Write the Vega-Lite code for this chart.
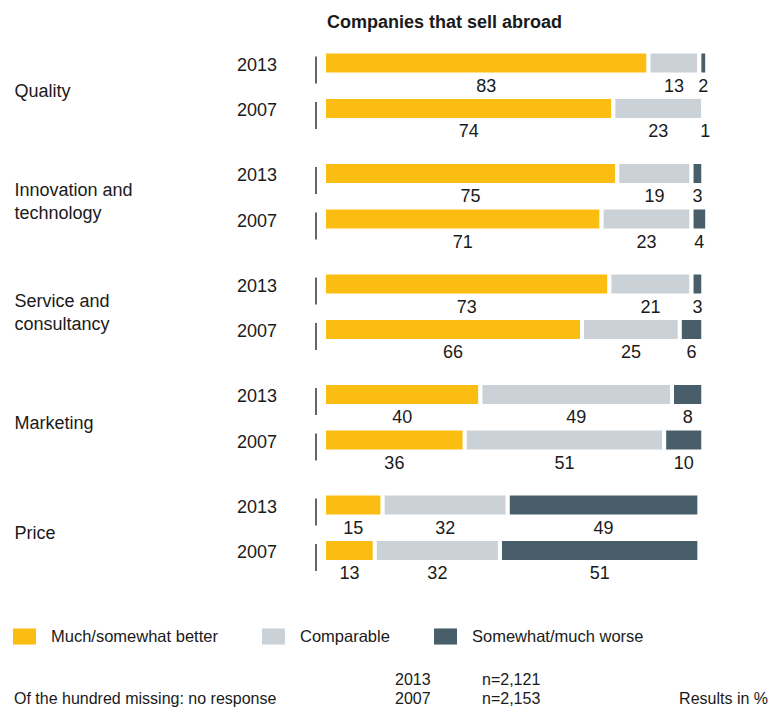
{
  "$schema": "https://vega.github.io/schema/vega-lite/v6.json",
  "width": 391,
  "height": 552.5,
  "autosize": {"type": "none"},
  "padding": {"left": 324, "top": 36.75, "right": 66, "bottom": 117.75},
  "background": "white",
  "config": {
    "view": {"stroke": null},
    "font": "Liberation Sans",
    "text": {"font": "Liberation Sans", "color": "#1a1a1a"}
  },
  "title": {
    "text": "Companies that sell abroad",
    "anchor": "start",
    "frame": "group",
    "fontSize": 18,
    "fontWeight": "bold",
    "color": "#1a1a1a",
    "baseline": "alphabetic",
    "offset": 8,
    "dx": 3,
    "dy": 17
  },
  "data": {
    "values": [
      {"category": "Quality", "year": "2013", "rating": "Much/somewhat better", "value": 83},
      {"category": "Quality", "year": "2013", "rating": "Comparable", "value": 13},
      {"category": "Quality", "year": "2013", "rating": "Somewhat/much worse", "value": 2},
      {"category": "Quality", "year": "2007", "rating": "Much/somewhat better", "value": 74},
      {"category": "Quality", "year": "2007", "rating": "Comparable", "value": 23},
      {"category": "Quality", "year": "2007", "rating": "Somewhat/much worse", "value": 1},
      {"category": "Innovation and\ntechnology", "year": "2013", "rating": "Much/somewhat better", "value": 75},
      {"category": "Innovation and\ntechnology", "year": "2013", "rating": "Comparable", "value": 19},
      {"category": "Innovation and\ntechnology", "year": "2013", "rating": "Somewhat/much worse", "value": 3},
      {"category": "Innovation and\ntechnology", "year": "2007", "rating": "Much/somewhat better", "value": 71},
      {"category": "Innovation and\ntechnology", "year": "2007", "rating": "Comparable", "value": 23},
      {"category": "Innovation and\ntechnology", "year": "2007", "rating": "Somewhat/much worse", "value": 4},
      {"category": "Service and\nconsultancy", "year": "2013", "rating": "Much/somewhat better", "value": 73},
      {"category": "Service and\nconsultancy", "year": "2013", "rating": "Comparable", "value": 21},
      {"category": "Service and\nconsultancy", "year": "2013", "rating": "Somewhat/much worse", "value": 3},
      {"category": "Service and\nconsultancy", "year": "2007", "rating": "Much/somewhat better", "value": 66},
      {"category": "Service and\nconsultancy", "year": "2007", "rating": "Comparable", "value": 25},
      {"category": "Service and\nconsultancy", "year": "2007", "rating": "Somewhat/much worse", "value": 6},
      {"category": "Marketing", "year": "2013", "rating": "Much/somewhat better", "value": 40},
      {"category": "Marketing", "year": "2013", "rating": "Comparable", "value": 49},
      {"category": "Marketing", "year": "2013", "rating": "Somewhat/much worse", "value": 8},
      {"category": "Marketing", "year": "2007", "rating": "Much/somewhat better", "value": 36},
      {"category": "Marketing", "year": "2007", "rating": "Comparable", "value": 51},
      {"category": "Marketing", "year": "2007", "rating": "Somewhat/much worse", "value": 10},
      {"category": "Price", "year": "2013", "rating": "Much/somewhat better", "value": 15},
      {"category": "Price", "year": "2013", "rating": "Comparable", "value": 32},
      {"category": "Price", "year": "2013", "rating": "Somewhat/much worse", "value": 49},
      {"category": "Price", "year": "2007", "rating": "Much/somewhat better", "value": 13},
      {"category": "Price", "year": "2007", "rating": "Comparable", "value": 32},
      {"category": "Price", "year": "2007", "rating": "Somewhat/much worse", "value": 51}
    ]
  },
  "transform": [
    {"calculate": "indexof(['Much/somewhat better','Comparable','Somewhat/much worse'], datum.rating)", "as": "order"},
    {"stack": "value", "groupby": ["category", "year"], "sort": [{"field": "order", "order": "ascending"}], "as": ["x0", "x1"], "offset": "zero"},
    {"calculate": "(datum.x0 + datum.x1) / 2", "as": "mid"}
  ],
  "encoding": {
    "y": {
      "field": "category",
      "type": "nominal",
      "scale": {
        "domain": ["Quality", "Innovation and\ntechnology", "Service and\nconsultancy", "Marketing", "Price"],
        "paddingInner": 0,
        "paddingOuter": 0
      },
      "axis": {
        "title": null,
        "domain": false,
        "ticks": false,
        "labelPadding": 310,
        "labelAlign": "left",
        "labelBaseline": "middle",
        "labelFontSize": 18,
        "labelColor": "#1a1a1a",
        "labelFont": "Liberation Sans",
        "labelLineHeight": 23,
        "labelLimit": 0,
        "labelOffset": {"condition": {"test": "indexof(datum.value, '\\n') >= 0", "value": -11.5}, "value": 0},
        "labelExpr": "split(datum.label, '\\n')"
      }
    }
  },
  "resolve": {"scale": {"yOffset": "independent"}},
  "layer": [
    {
      "mark": {"type": "bar", "stroke": "white", "strokeWidth": 4},
      "encoding": {
        "x": {"field": "x0", "type": "quantitative", "scale": {"domain": [0, 100], "nice": false}, "axis": null},
        "x2": {"field": "x1"},
        "yOffset": {"field": "year", "type": "nominal", "scale": {"type": "band", "domain": ["2013", "2007"], "paddingInner": 0.494505, "paddingOuter": 0.461538, "align": 0.351}},
        "color": {
          "field": "rating",
          "type": "nominal",
          "scale": {
            "domain": ["Much/somewhat better", "Comparable", "Somewhat/much worse"],
            "range": ["#FCBD12", "#CAD2D7", "#485E6B"]
          },
          "legend": {
            "title": null,
            "orient": "none",
            "direction": "horizontal",
            "legendX": -311,
            "legendY": 588.25,
            "padding": 0,
            "symbolType": "M-1,-0.7L1,-0.7L1,0.7L-1,0.7Z",
            "symbolSize": 529,
            "symbolStrokeWidth": 0,
            "symbolOpacity": 1,
            "labelFontSize": 16.5,
            "labelFont": "Liberation Sans",
            "labelColor": "#1a1a1a",
            "labelOffset": 15,
            "columnPadding": 44,
            "labelLimit": 0
          }
        }
      }
    },
    {
      "mark": {"type": "text", "dy": 24, "fontSize": 18, "baseline": "middle", "align": "center"},
      "encoding": {
        "x": {"field": "mid", "type": "quantitative", "scale": {"domain": [0, 100], "nice": false}, "axis": null},
        "yOffset": {"field": "year", "type": "nominal", "scale": {"type": "band", "domain": ["2013", "2007"], "paddingInner": 0.494505, "paddingOuter": 0.461538, "align": 0.351}},
        "text": {"field": "value", "type": "quantitative"}
      }
    },
    {
      "transform": [{"filter": "datum.order == 0"}],
      "mark": {"type": "text", "dx": -47, "dy": 3, "fontSize": 18, "baseline": "middle", "align": "right"},
      "encoding": {
        "x": {"datum": 0, "type": "quantitative"},
        "yOffset": {"field": "year", "type": "nominal", "scale": {"type": "band", "domain": ["2013", "2007"], "paddingInner": 0.494505, "paddingOuter": 0.461538, "align": 0.351}},
        "text": {"field": "year", "type": "nominal"}
      }
    },
    {
      "transform": [{"filter": "datum.order == 0"}],
      "mark": {"type": "tick", "xOffset": -8, "size": 27, "thickness": 1.5, "color": "#333333", "opacity": 1},
      "encoding": {
        "x": {"datum": 0, "type": "quantitative"},
        "yOffset": {"field": "year", "type": "nominal", "scale": {"type": "band", "domain": ["2013", "2007"], "paddingInner": 0.494505, "paddingOuter": 0.461538, "align": 0.518}}
      }
    },
    {
      "data": {"values": [{"note": "2013"}]},
      "mark": {"type": "text", "fontSize": 16, "align": "left", "baseline": "middle"},
      "encoding": {"x": {"value": 71}, "y": {"value": 643}, "text": {"field": "note"}}
    },
    {
      "data": {"values": [{"note": "n=2,121"}]},
      "mark": {"type": "text", "fontSize": 16, "align": "left", "baseline": "middle"},
      "encoding": {"x": {"value": 158}, "y": {"value": 643}, "text": {"field": "note"}}
    },
    {
      "data": {"values": [{"note": "Of the hundred missing: no response"}]},
      "mark": {"type": "text", "fontSize": 16, "align": "left", "baseline": "middle"},
      "encoding": {"x": {"value": -310}, "y": {"value": 662}, "text": {"field": "note"}}
    },
    {
      "data": {"values": [{"note": "2007"}]},
      "mark": {"type": "text", "fontSize": 16, "align": "left", "baseline": "middle"},
      "encoding": {"x": {"value": 71}, "y": {"value": 662}, "text": {"field": "note"}}
    },
    {
      "data": {"values": [{"note": "n=2,153"}]},
      "mark": {"type": "text", "fontSize": 16, "align": "left", "baseline": "middle"},
      "encoding": {"x": {"value": 158}, "y": {"value": 662}, "text": {"field": "note"}}
    },
    {
      "data": {"values": [{"note": "Results in %"}]},
      "mark": {"type": "text", "fontSize": 16, "align": "right", "baseline": "middle"},
      "encoding": {"x": {"value": 444}, "y": {"value": 662}, "text": {"field": "note"}}
    }
  ]
}
